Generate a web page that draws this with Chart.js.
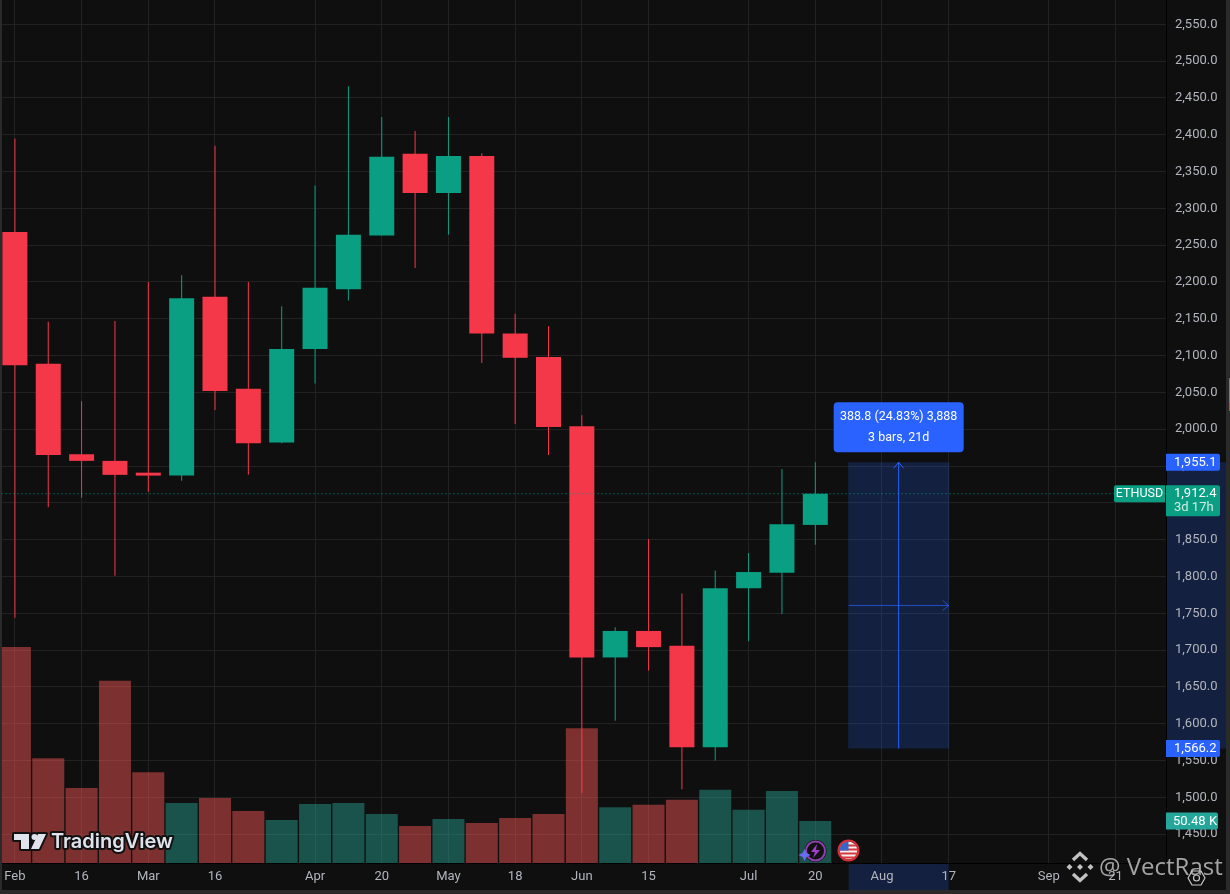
<!DOCTYPE html>
<html>
<head>
<meta charset="utf-8">
<style>html,body{margin:0;padding:0;background:#0f0f0f;overflow:hidden}canvas{display:block}</style>
<script src="https://cdn.jsdelivr.net/npm/chart.js@4"></script>
</head>
<body>
<canvas id="c" width="1230" height="894"></canvas>
<script>
const opens  = [2268,2089,1966,1957,1941,1937,2180,2055,1982,2109,2190,2263,2374,2321,2371,2130,2098,2004,1690,1726,1706,1568,1784,1805,1870];
const closes = [2087,1965,1957,1938,1937,2178,2052,1981,2109,2192,2264,2370,2321,2371,2130,2097,2003,1690,1726,1704,1568,1784,1806,1871,1912.4];
const highs  = [2395,2146,2038,2147,2200,2209,2385,2200,2167,2331,2466,2424,2405,2424,2375,2157,2140,2019,1731,1851,1777,1808,1832,1946,1955.1];
const lows   = [1744,1894,1907,1801,1915,1930,2026,1938,1981,2062,2175,2263,2219,2264,2090,2007,1965,1506,1604,1672,1511,1550,1712,1749,1843];
const volumes= [259.6,126,90,219,109,72,78,62.5,51.7,71,72,59,44.5,53,48,54,59,162,67,70,76,88,64,86.5,50.48];
const priceTicks = [1450,1500,1550,1600,1650,1700,1750,1800,1850,1900,1950,2000,2050,2100,2150,2200,2250,2300,2350,2400,2450,2500,2550];
const timeTickIndex = [0,2,4,6,9,11,13,15,17,19,22,24,26,28,31,33];
const timeTickLabels = ["Feb","16","Mar","16","Apr","20","May","18","Jun","15","Jul","20","Aug","17","Sep","21"];
const measureFrom = 1566.2, measureTo = 1955.1;
const measureStartIndex = 25, measureEndIndex = 28;
const lastPrice = 1912.4, lastVolume = 50.48;

const UP='#0a9f82', DOWN='#f5374a', VUP='rgba(40,165,150,0.45)', VDOWN='rgba(247,85,85,0.48)', BLUE='#2962ff';
const BG='#0f0f0f', GRID='#222222', TXT='#b2b5be', FONT='Roboto, sans-serif';
const idx = opens.map((_,i)=>i);
const isUp = i => closes[i] >= opens[i];
const measureMid = (measureStartIndex+measureEndIndex)/2;
const measureMidPrice = (measureFrom+measureTo)/2;
const noPad = s => {s.paddingLeft=0;s.paddingRight=0;s.paddingTop=0;s.paddingBottom=0;};

function rr(ctx,x,y,w,h,r){ctx.beginPath();ctx.roundRect(x,y,w,h,r);ctx.fill();}
function text(ctx,s,x,y,font,color,align){ctx.font=font;ctx.fillStyle=color;ctx.textAlign=align||'left';ctx.textBaseline='middle';ctx.fillText(s,x,y);}

const deco = {
  id:'deco',
  beforeDraw(chart){
    const {ctx,scales:{x,y}} = chart;
    ctx.save();
    ctx.fillStyle=BG; ctx.fillRect(0,0,1230,894);
    ctx.fillStyle='#2a2a2a'; ctx.fillRect(0,0,2,894); ctx.fillRect(0,890,1230,4);
    ctx.fillRect(1226,0,4,894);
    ctx.fillStyle='#777'; ctx.fillRect(1229,378,1,25);
    ctx.fillStyle='#c8404d'; ctx.fillRect(1229,403,1,8);
    ctx.fillStyle='rgba(41,98,255,0.2)';
    const xa=x.getPixelForValue(measureStartIndex), xb=x.getPixelForValue(measureEndIndex);
    const ya=y.getPixelForValue(measureTo), yb=y.getPixelForValue(measureFrom);
    ctx.fillRect(1166,ya,60,yb-ya);
    ctx.fillRect(xa,864,xb-xa,26);
    ctx.restore();
  },
  afterDraw(chart){
    const {ctx,scales:{x,y,yv}} = chart;
    ctx.save();
    const xb=x.getPixelForValue(measureEndIndex), xm=x.getPixelForValue(measureMid);
    const ya=y.getPixelForValue(measureTo), ym=y.getPixelForValue(measureMidPrice);
    // arrow heads
    ctx.strokeStyle=BLUE; ctx.lineWidth=1;
    ctx.beginPath();ctx.moveTo(xm-5,ya+6);ctx.lineTo(xm,ya);ctx.lineTo(xm+5,ya+6);ctx.stroke();
    ctx.strokeStyle='rgba(41,98,255,0.7)';
    ctx.beginPath();ctx.moveTo(xb-6,ym-5);ctx.lineTo(xb,ym);ctx.lineTo(xb-6,ym+5);ctx.stroke();
    // measure label
    ctx.fillStyle=BLUE; rr(ctx,xm-65,ya-60,130,50,4);
    text(ctx,'388.8 (24.83%) 3,888',xm,ya-45.5,'400 12.5px '+FONT,'#fff','center');
    text(ctx,'3 bars, 21d',xm,ya-24.5,'400 12.5px '+FONT,'#fff','center');
    // axis tags
    const tag=(v,col)=>{const p=y.getPixelForValue(v);ctx.fillStyle=col;rr(ctx,1166,p-8.5,54,17,[0,2,2,0]);return p;};
    let p=tag(measureTo,BLUE); text(ctx,'1,955.1',1174,p+.5,'400 13px '+FONT,'#fff');
    p=tag(measureFrom,BLUE); text(ctx,'1,566.2',1174,p+.5,'400 13px '+FONT,'#fff');
    p=y.getPixelForValue(lastPrice);
    ctx.fillStyle=UP; rr(ctx,1166,p-8.5,54,31,[0,2,2,0]);
    text(ctx,'1,912.4',1174,p+.5,'400 13px '+FONT,'#fff');
    text(ctx,'3d 17h',1174,p+14.5,'400 13px '+FONT,'rgba(255,255,255,0.8)');
    ctx.fillStyle=UP; rr(ctx,1114,p-8.5,51,17,[2,0,0,2]);
    text(ctx,'ETHUSD',1139.5,p+.5,'400 12.5px '+FONT,'#fff','center');
    p=yv.getPixelForValue(lastVolume);
    ctx.fillStyle='#26a69a'; rr(ctx,1166,p-8.5,52,17,[0,2,2,0]);
    text(ctx,'50.48 K',1173,p+.5,'400 13px '+FONT,'#fff');
    // TradingView logo + text
    ctx.lineJoin='round'; ctx.lineWidth=4; ctx.strokeStyle='#111';
    const logo=new Path2D('M14 834H29V849H21V840H14Z M38 834H46L39 849H31Z');
    const dot=new Path2D(); dot.arc(34.5,837,3,0,Math.PI*2);
    ctx.stroke(logo); ctx.stroke(dot);
    ctx.fillStyle='#e0e3eb'; ctx.fill(logo); ctx.fill(dot);
    ctx.font='600 20px Inter, sans-serif'; ctx.textAlign='left'; ctx.textBaseline='middle';
    ctx.strokeText('TradingView',51,842); ctx.fillStyle='#e0e3eb'; ctx.fillText('TradingView',51,842);
    // event icons
    const cx=815.5, cy=851;
    ctx.fillStyle='#111'; ctx.beginPath();ctx.arc(cx,cy,11,0,7);ctx.fill();
    ctx.strokeStyle='#8e3fb0'; ctx.lineWidth=2; ctx.beginPath();ctx.arc(cx,cy,9.5,0,7);ctx.stroke();
    ctx.fillStyle='#a33fd0'; ctx.fill(new Path2D('M817 844L811 852H815L813 858L820 850H816Z'));
    ctx.fillStyle='#6a6cf0'; ctx.fill(new Path2D('M804.5 849L806.5 853L810.5 855L806.5 857L804.5 861L802.5 857L798.5 855L802.5 853Z'));
    const fx=848.5, fy=850.5;
    ctx.fillStyle='#111'; ctx.beginPath();ctx.arc(fx,fy,11.5,0,7);ctx.fill();
    ctx.save();ctx.beginPath();ctx.arc(fx,fy,9,0,7);ctx.clip();
    ctx.fillStyle='#f0f0f0';ctx.fillRect(fx-10,fy-10,20,20);
    ctx.fillStyle='#d9363e';for(let k=-6;k<10;k+=4)ctx.fillRect(fx-10,fy+k,20,2);
    ctx.fillStyle='#3566c8';ctx.fillRect(fx-10,fy-10,10,10);
    ctx.restore();
    ctx.strokeStyle='#d8303a';ctx.lineWidth=2;ctx.beginPath();ctx.arc(fx,fy,10,0,7);ctx.stroke();
    // watermark
    ctx.fillStyle='rgba(225,225,225,0.85)';
    const dm=(a,b,r)=>{ctx.beginPath();ctx.moveTo(a,b-r);ctx.lineTo(a+r,b);ctx.lineTo(a,b+r);ctx.lineTo(a-r,b);ctx.closePath();ctx.fill();};
    dm(1080,867,3); dm(1069.5,867,3); dm(1090.5,867,3);
    ctx.strokeStyle='rgba(225,225,225,0.85)';ctx.lineWidth=3.4;ctx.lineJoin='miter';
    ctx.beginPath();ctx.moveTo(1073,860);ctx.lineTo(1080,853.5);ctx.lineTo(1087,860);ctx.stroke();
    ctx.beginPath();ctx.moveTo(1073,874);ctx.lineTo(1080,880.5);ctx.lineTo(1087,874);ctx.stroke();
    text(ctx,'@ VectRast',1099,868,'400 24px "Open Sans", sans-serif','rgba(215,215,215,0.75)');
    // settings hexagon
    ctx.strokeStyle='#c8c8c8';ctx.lineWidth=1.2;ctx.lineJoin='round';
    ctx.stroke(new Path2D('M1188 878L1192 871H1201L1205 878L1201 885H1192Z'));
    ctx.beginPath();ctx.arc(1196.5,878,3,0,7);ctx.stroke();
    ctx.restore();
  }
};

new Chart(document.getElementById('c'),{
  type:'bar',
  data:{datasets:[
    {type:'line',order:0,data:[{x:-1,y:lastPrice},{x:40,y:lastPrice}],borderColor:'#089981',borderWidth:1,borderDash:[1,3],pointRadius:0,yAxisID:'y'},
    {type:'line',order:1,data:[{x:measureMid,y:measureFrom},{x:measureMid,y:measureTo}],borderColor:BLUE,borderWidth:1,pointRadius:0,yAxisID:'y'},
    {type:'line',order:1,data:[{x:measureStartIndex,y:measureMidPrice},{x:measureEndIndex,y:measureMidPrice}],borderColor:'rgba(41,98,255,0.7)',borderWidth:1,pointRadius:0,yAxisID:'y'},
    {order:2,grouped:false,barThickness:25,inflateAmount:0,data:idx.map(i=>({x:i,y:[opens[i],closes[i]]})),backgroundColor:idx.map(i=>isUp(i)?UP:DOWN),yAxisID:'y'},
    {order:3,grouped:false,barThickness:1,inflateAmount:0,data:idx.map(i=>({x:i,y:[lows[i],highs[i]]})),backgroundColor:idx.map(i=>isUp(i)?UP:DOWN),yAxisID:'y'},
    {order:4,grouped:false,barThickness:32,inflateAmount:0,data:idx.map(i=>({x:i,y:volumes[i]})),backgroundColor:idx.map(i=>isUp(i)?VUP:VDOWN),yAxisID:'yv'},
    {order:5,grouped:false,barThickness:101,inflateAmount:0,data:[{x:measureMid,y:[measureFrom,measureTo]}],backgroundColor:'rgba(41,98,255,0.2)',yAxisID:'y'}
  ]},
  options:{
    responsive:false,animation:false,devicePixelRatio:1,
    layout:{padding:{left:2,right:0,top:0,bottom:0}},
    plugins:{legend:{display:false},tooltip:{enabled:false}},
    events:[],
    scales:{
      x:{type:'linear',offset:false,min:-0.3868,max:34.516,
        afterBuildTicks(s){s.ticks=timeTickIndex.map(v=>({value:v}));},
        afterFit(s){s.height=31;noPad(s);},
        grid:{color:GRID,drawTicks:false,offset:false},
        border:{color:'#000',width:1},
        ticks:{autoSkip:false,maxRotation:0,padding:6,color:TXT,font:{family:'Roboto',size:13},
          callback(v){const k=timeTickIndex.indexOf(v);return k>=0?timeTickLabels[k]:'';}}
      },
      y:{type:'linear',position:'right',min:1410.8,max:2583,
        afterBuildTicks(s){s.ticks=priceTicks.map(v=>({value:v}));},
        afterFit(s){s.width=64;noPad(s);},
        grid:{color:GRID,drawTicks:false},
        border:{color:'#000',width:1},
        ticks:{autoSkip:false,padding:9,crossAlign:'near',color:TXT,font:{family:'Roboto',size:13},
          callback(v){return v.toLocaleString('en-US',{minimumFractionDigits:1,maximumFractionDigits:1});}}
      },
      yv:{type:'linear',display:false,min:0,max:1037,grid:{display:false}}
    }
  },
  plugins:[deco]
});
</script>
</body>
</html>
